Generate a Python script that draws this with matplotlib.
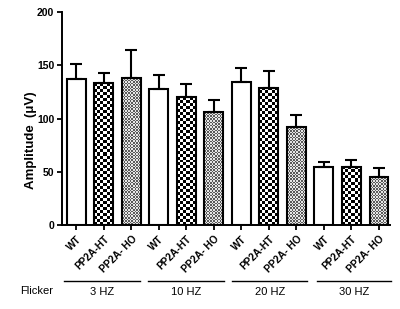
import numpy as np
import matplotlib
matplotlib.use('Agg')
import matplotlib.pyplot as plt
from matplotlib.colors import ListedColormap
import matplotlib.transforms as mtransforms

plt.rcParams['font.family'] = ['Liberation Sans', 'DejaVu Sans']

# data
groups = ['3 HZ', '10 HZ', '20 HZ', '30 HZ']
genotypes = ['WT', 'PP2A-HT', 'PP2A- HO']
means = [137, 133, 138,
         128, 120, 106,
         134, 129, 92,
         54.5, 54.5, 45]
errors = [14, 10, 26,
          13, 12, 11,
          13, 16, 11,
          4.5, 6.5, 8.5]
y_ticks = [0, 50, 100, 150, 200]

# fill pattern per genotype: None = white, else (cell px, dark colour, light colour)
patterns = [None, (3.0, '#000000', '#ffffff'), (1.6, '#5a5a5a', '#e6e6e6')]

fig = plt.figure(figsize=(4.0, 3.09), dpi=100)
ax = fig.add_axes([0.155, 0.272, 0.82, 0.689])

n = len(means)
x = np.arange(n)
width = 0.69
xlim = (-0.525, n - 0.6)
ylim = (0, 200)

bars = ax.bar(x, means, width=width, facecolor='none', edgecolor='black',
              linewidth=1.5, zorder=3)
ax.errorbar(x, means, yerr=[np.zeros(n), errors], fmt='none', ecolor='black',
            elinewidth=1.5, capsize=4.5, capthick=1.5, zorder=2)

ax.set_xlim(*xlim)
ax.set_ylim(*ylim)

# checker fills, clipped to each bar
ax_w_px = 0.82 * 400
ax_h_px = 0.689 * 309
px_per_x = ax_w_px / (xlim[1] - xlim[0])
px_per_y = ax_h_px / (ylim[1] - ylim[0])
for i, b in enumerate(bars):
    pat = patterns[i % 3]
    if pat is None:
        continue
    cell, dark, light = pat
    x0 = b.get_x()
    x1 = x0 + b.get_width()
    h = b.get_height()
    nx = max(1, int(round((x1 - x0) * px_per_x / cell)))
    ny = max(1, int(round(h * px_per_y / cell)))
    grid = (np.add.outer(np.arange(ny), np.arange(nx)) % 2).astype(float)
    im = ax.imshow(grid, extent=(x0, x1, 0, h), origin='lower', aspect='auto',
                   cmap=ListedColormap([dark, light]), interpolation='nearest',
                   zorder=1)
    im.set_clip_path(b)

ax.set_xlim(*xlim)
ax.set_ylim(*ylim)

for s in ['top', 'right']:
    ax.spines[s].set_visible(False)
ax.spines['left'].set_linewidth(1.4)
ax.spines['bottom'].set_linewidth(1.4)

ax.set_yticks(y_ticks)
ax.set_yticklabels([str(t) for t in y_ticks], fontsize=7.5, fontweight='bold')
ax.set_xticks(x)
ax.set_xticklabels(genotypes * len(groups), rotation=45, ha='right',
                   rotation_mode='anchor', fontsize=7.3, fontweight='bold')
ax.tick_params(axis='both', direction='out', length=3.5, width=1.3, pad=2)
ax.tick_params(axis='x', pad=3)

ax.set_ylabel('Amplitude  (\u03bcV)', fontsize=9.5, fontweight='bold')
ax.yaxis.set_label_coords(-0.075, 0.4)

# group brackets under the tick labels
trans = mtransforms.blended_transform_factory(ax.transData, ax.transAxes)
for g, name in enumerate(groups):
    left = 3 * g - 0.45 + 0.06 * g
    right = 3 * g + 2.3 + 0.05 * g
    ax.plot([left, right], [-0.263, -0.263], color='black', linewidth=1.0,
            transform=trans, clip_on=False)
    ax.text((left + right) / 2, -0.315, name, transform=trans, ha='center',
            va='center', fontsize=8)
fig.text(37 / 400, 1 - 291 / 309, 'Flicker', ha='center', va='center', fontsize=8)

fig.savefig('out.png', dpi=100)
